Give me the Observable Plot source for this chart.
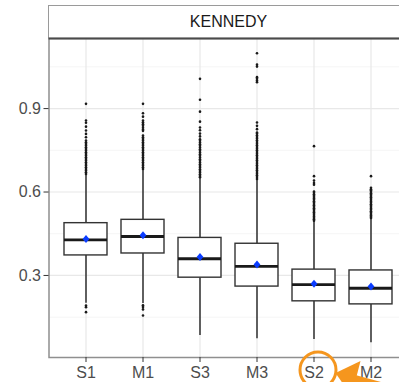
<!DOCTYPE html>
<html><head><meta charset="utf-8">
<script src="https://cdn.jsdelivr.net/npm/d3@7"></script>
<script src="https://cdn.jsdelivr.net/npm/@observablehq/plot@0.6"></script>
<style>
html,body{margin:0;padding:0;overflow:hidden;background:#fff;width:399px;height:382px;position:relative}
#strip{position:absolute;left:48px;top:5px;width:360px;height:33px;box-sizing:border-box;border-top:1px solid #9a9a9a;border-left:1.5px solid #9a9a9a;background:#fff;
font-family:"Liberation Sans",Arial,sans-serif;font-size:16px;color:#1a1a1a;}
#strip span{position:absolute;left:0;width:359px;text-align:center;top:7px}
#chart{position:absolute;left:0;top:38px;width:407px}
#chart svg{max-width:none !important}
</style></head>
<body>
<div id="strip"><span>KENNEDY</span></div>
<div id="chart"></div>
<script>
const categories = ["S1","M1","S3","M3","S2","M2"];
const q1 = [0.372, 0.379, 0.292, 0.260, 0.207, 0.196];
const median = [0.428, 0.440, 0.360, 0.333, 0.267, 0.254];
const q3 = [0.488, 0.500, 0.435, 0.414, 0.321, 0.318];
const mean = [0.431, 0.445, 0.366, 0.339, 0.270, 0.260];
const whiskerLow = [0.200, 0.199, 0.084, 0.072, 0.070, 0.058];
const whiskerHigh = [0.662, 0.680, 0.652, 0.645, 0.495, 0.505];
const outliers = {
  S1: [0.917,0.857,0.849,0.835,0.821,0.809,0.797,0.785,0.779,0.773,0.767,0.761,0.755,0.749,0.743,0.737,0.731,0.725,0.719,0.713,0.707,0.701,0.695,0.689,0.683,0.677,0.671,0.665,
       0.192,0.186,0.168],
  M1: [0.917,0.883,0.871,0.857,0.851,0.844,0.838,0.831,0.825,0.82,0.803,0.797,0.791,0.785,0.779,0.773,0.767,0.761,0.755,0.749,0.743,0.737,0.731,0.725,0.719,0.713,0.707,0.701,0.695,0.689,0.683,
       0.193,0.187,0.178,0.156],
  S3: [1.007,0.932,0.889,0.853,0.832,0.822,0.81,0.80,0.79,0.784,0.778,0.772,0.766,0.76,0.754,0.748,0.742,0.736,0.73,0.724,0.718,0.712,0.706,0.70,0.694,0.688,0.682,0.676,0.670,0.664,0.658,0.653],
  M3: [1.099,1.058,1.051,1.013,1.007,1.001,0.995,0.85,0.838,0.826,0.814,0.81,0.804,0.798,0.792,0.786,0.78,0.774,0.768,0.762,0.756,0.75,0.744,0.738,0.732,0.726,0.72,0.714,0.708,0.702,0.696,0.69,0.684,0.678,0.672,0.666,0.66,0.654,0.647],
  S2: [0.765,0.657,0.641,0.632,0.626,0.602,0.597,0.592,0.587,0.582,0.577,0.572,0.567,0.562,0.557,0.552,0.547,0.542,0.537,0.532,0.527,0.522,0.517,0.512,0.507,0.502,0.497],
  M2: [0.657,0.615,0.61,0.606,0.601,0.596,0.591,0.586,0.581,0.576,0.571,0.566,0.561,0.556,0.551,0.546,0.541,0.536,0.531,0.526,0.521,0.516,0.511,0.507]
};
const yTicks = [0.3, 0.6, 0.9];
const yMinor = [0.15, 0.45, 0.75, 1.05];

const boxes = categories.map((c, i) => ({cat: c, q1: q1[i], med: median[i], q3: q3[i], mean: mean[i], lo: whiskerLow[i], hi: whiskerHigh[i]}));
const outl = categories.flatMap(c => outliers[c].map(v => ({cat: c, v})));

const diamond = {
  draw(ctx, size) {
    const r = Math.sqrt(size / Math.PI);
    ctx.moveTo(0, -r); ctx.lineTo(r * 0.85, 0); ctx.lineTo(0, r); ctx.lineTo(-r * 0.85, 0); ctx.closePath();
  }
};

const plot = Plot.plot({
  width: 407,
  height: 344,
  marginLeft: 48.5,
  marginRight: 0,
  marginTop: 0,
  marginBottom: 25,
  style: {fontFamily: '"Liberation Sans", Arial, sans-serif', fontSize: "16px", overflow: "visible", background: "transparent", maxWidth: "none"},
  x: {type: "band", domain: categories, paddingInner: 0.25, paddingOuter: 0.225, align: 0.5},
  y: {domain: [0.005, 1.152]},
  marks: [
    Plot.ruleY(yMinor, {stroke: "#f0f0f0", strokeWidth: 0.7}),
    Plot.ruleY(yTicks, {stroke: "#e8e8e8", strokeWidth: 1.2}),
    Plot.ruleX(categories, {x: d => d, stroke: "#e8e8e8", strokeWidth: 1.2}),
    Plot.ruleX(boxes, {x: "cat", y1: "q3", y2: "hi", stroke: "#222", strokeWidth: 1.4}),
    Plot.ruleX(boxes, {x: "cat", y1: "lo", y2: "q1", stroke: "#222", strokeWidth: 1.4}),
    Plot.barY(boxes, {x: "cat", y1: "q1", y2: "q3", fill: "white", stroke: "#333", strokeWidth: 1.4}),
    Plot.tickY(boxes, {x: "cat", y: "med", stroke: "#1a1a1a", strokeWidth: 2.8}),
    Plot.dot(outl, {x: "cat", y: "v", r: 1.3, fill: "#1a1a1a", stroke: null}),
    Plot.dot(boxes, {x: "cat", y: "mean", r: 4, symbol: diamond, fill: "#0a3cff", stroke: null}),
    Plot.frame({stroke: "#8f8f8f", strokeWidth: 1.5}),
    Plot.ruleY([1.152], {stroke: "#4a4a4a", strokeWidth: 2}),
    Plot.axisY({ticks: yTicks, tickFormat: ".1f", tickSize: 5, tickPadding: 3, stroke: "#333", fill: "#4d4d4d", label: null}),
    Plot.axisX({tickSize: 5, tickPadding: 4, stroke: "#333", fill: "#4d4d4d", label: null})
  ]
});
document.getElementById("chart").appendChild(plot);

// annotation positioned from the plot's own x scale
const xs = plot.scale("x");
const cx = xs.apply("S2") + xs.bandwidth / 2 + 4.5;
const cy = 332;
const svg = d3.select(plot);
svg.append("circle").attr("cx", cx).attr("cy", cy).attr("r", 18)
  .attr("fill", "none").attr("stroke", "#f5961e").attr("stroke-width", 3);
const tx = cx + 17.5, ty = cy + 3;
svg.append("path")
  .attr("d", `M${tx},${ty} L${tx + 25},${ty - 12} L${tx + 16},${ty + 23} Z`)
  .attr("fill", "#f5961e");
svg.append("line").attr("x1", tx + 18).attr("y1", ty + 5).attr("x2", tx + 90).attr("y2", ty + 25)
  .attr("stroke", "#f5961e").attr("stroke-width", 7);
</script>
</body></html>
